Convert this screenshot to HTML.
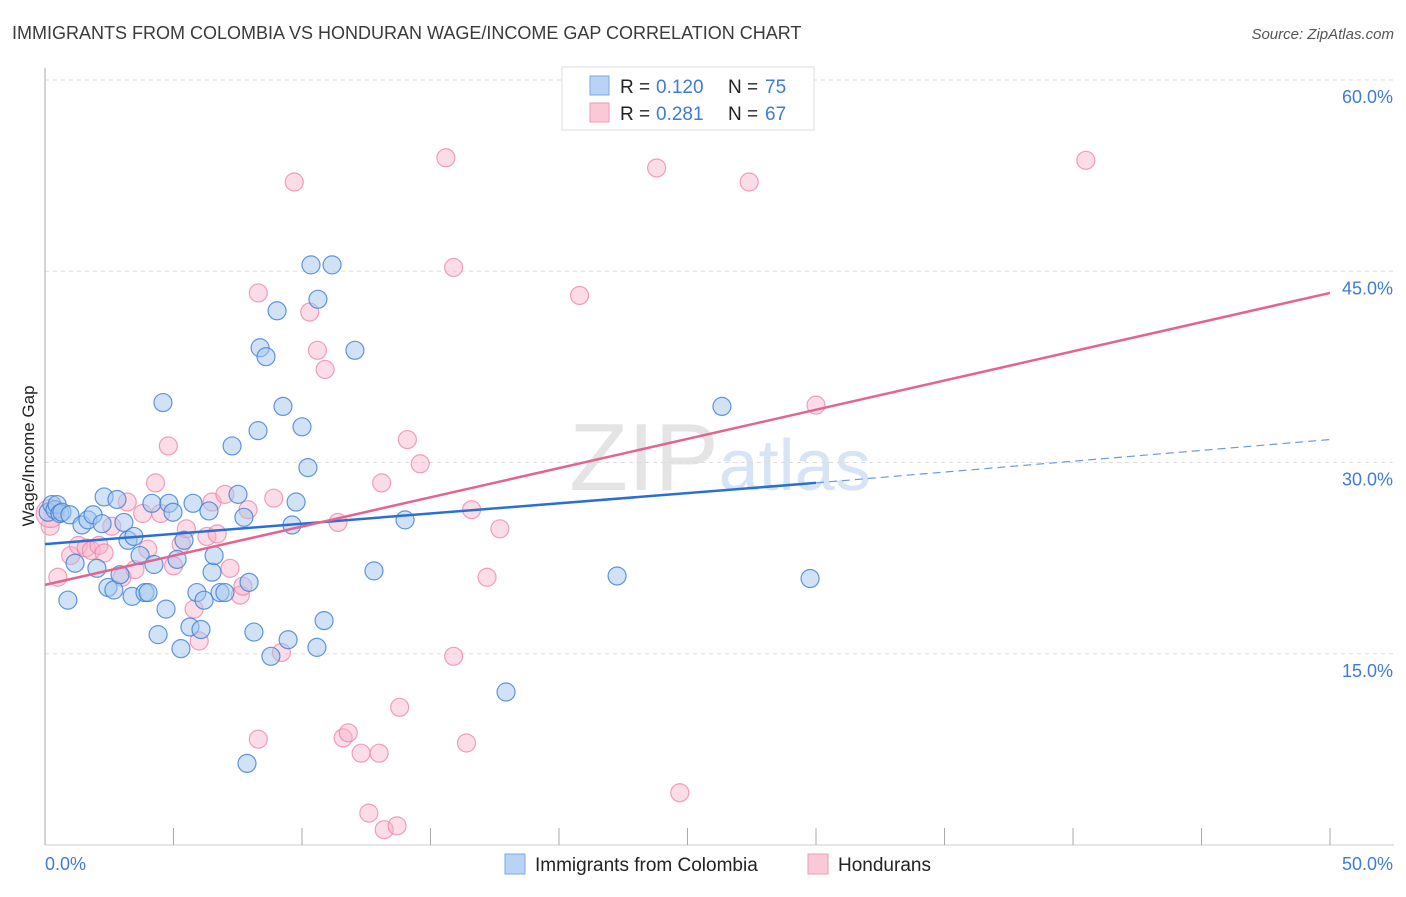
<!DOCTYPE html>
<html><head><meta charset="utf-8">
<style>
body{margin:0;background:#fff;font-family:"Liberation Sans",sans-serif;}
svg text{font-family:"Liberation Sans",sans-serif;}
</style></head>
<body>
<svg id="chart" width="1406" height="892" xmlns="http://www.w3.org/2000/svg">
<text x="12" y="39" font-size="18" fill="#3a3a3a">IMMIGRANTS FROM COLOMBIA VS HONDURAN WAGE/INCOME GAP CORRELATION CHART</text>
<text x="1394" y="39" font-size="15" fill="#555" text-anchor="end" font-style="italic">Source: ZipAtlas.com</text>
<text x="720" y="490" font-size="96" fill="#e4e4e4" text-anchor="middle" font-family="Liberation Serif">ZIP<tspan fill="#d6e4f5" font-family="Liberation Sans" font-size="72">atlas</tspan></text>
<g id="grid"></g>
<g id="axes"></g>
<g id="pts"></g>
<g id="lines"></g>
<text transform="translate(34,456) rotate(-90)" font-size="17" fill="#222" text-anchor="middle">Wage/Income Gap</text>
<g>
<rect x="562" y="67" width="252" height="63" fill="#fff" stroke="#ddd"/>
<rect x="590" y="76" width="19" height="19" fill="#b8d3f5" stroke="#7aaae6"/>
<text x="620" y="93" font-size="19" fill="#222">R =</text>
<text x="656" y="93" font-size="19" fill="#3f7bd8">0.120</text>
<text x="728" y="93" font-size="19" fill="#222">N =</text>
<text x="765" y="93" font-size="19" fill="#3f7bd8">75</text>
<rect x="590" y="103" width="19" height="19" fill="#f9c9d8" stroke="#ee9ab5"/>
<text x="620" y="120" font-size="19" fill="#222">R =</text>
<text x="656" y="120" font-size="19" fill="#3f7bd8">0.281</text>
<text x="728" y="120" font-size="19" fill="#222">N =</text>
<text x="765" y="120" font-size="19" fill="#3f7bd8">67</text>
</g>
<g>
<rect x="505" y="854" width="20" height="20" fill="#b8d3f5" stroke="#7aaae6"/>
<text x="535" y="871" font-size="19" fill="#222">Immigrants from Colombia</text>
<rect x="808" y="854" width="20" height="20" fill="#f9c9d8" stroke="#ee9ab5"/>
<text x="838" y="871" font-size="19" fill="#222">Hondurans</text>
</g>
</svg>
<script>
const yTicks=[15,30,45,60];
const xTickLabels=["0.0%","50.0%"];
const colX=[0.12,0.27,0.39,0.47,0.58,0.66,0.89,0.97,1.17,1.44,1.67,1.87,2.02,2.22,2.30,2.45,2.68,2.80,2.92,3.07,3.23,3.39,3.46,3.70,3.89,4.01,4.16,4.24,4.40,4.59,4.71,4.82,4.98,5.14,5.29,5.41,5.64,5.76,5.91,6.07,6.19,6.38,6.50,6.58,6.81,7.00,7.28,7.51,7.74,7.94,8.13,8.29,8.37,8.60,8.79,9.03,9.26,9.46,9.61,9.77,10.0,10.23,10.35,10.58,10.62,10.86,11.17,12.06,12.80,14.01,17.94,22.26,26.34,29.77,7.86];
const colY=[26.1,26.7,26.3,26.7,26.0,26.1,19.2,25.9,22.1,25.1,25.5,25.9,21.7,25.2,27.3,20.2,20.0,27.1,21.2,25.3,23.9,19.5,24.2,22.7,19.8,19.8,26.8,22.0,16.5,34.7,18.5,26.8,26.1,22.4,15.4,23.9,17.1,26.8,19.8,16.9,19.2,26.2,21.4,22.7,19.8,19.8,31.3,27.5,25.7,20.6,16.7,32.5,39.0,38.3,14.8,41.9,34.4,16.1,25.1,26.9,32.8,29.6,45.5,15.5,42.8,17.6,45.5,38.8,21.5,25.5,12.0,21.1,34.4,20.9,6.4];
const honX=[0.2,0.5,1.0,1.3,1.6,1.8,2.1,2.3,2.6,3.0,3.2,3.5,3.8,4.0,4.3,4.5,4.8,5.0,5.3,5.5,5.8,6.0,6.3,6.5,6.7,7.0,7.2,7.6,7.7,7.9,8.3,8.3,8.9,9.2,9.7,10.3,10.6,10.9,11.4,11.6,11.8,12.3,12.6,13.0,13.1,13.2,13.7,13.8,14.1,14.6,15.6,15.9,15.9,16.4,16.6,17.2,17.7,20.8,23.8,24.7,27.4,30.0,40.5,0.2];
const honY=[25.0,21.0,22.7,23.5,23.3,23.1,23.5,22.9,25.0,21.0,26.9,21.6,26.0,23.2,28.4,26.0,31.3,21.9,23.6,24.8,18.5,16.0,24.2,26.9,24.4,27.5,21.7,19.6,20.3,26.3,43.3,8.3,27.2,15.1,52.0,41.8,38.8,37.3,25.3,8.4,8.8,7.2,2.5,7.2,28.4,1.2,1.5,10.8,31.8,29.9,53.9,45.3,14.8,8.0,26.3,21.0,24.8,43.1,53.1,4.1,52.0,34.5,53.7,26.0];
const colLine=[0,23.6,30,28.4];
const colDash=[30,28.4,50,31.8];
const honLine=[0,20.4,50,43.3];
const X0=45,X1=1330,Y0=845,YT=80;
const sx=v=>X0+(X1-X0)*v/50;
const sy=v=>Y0-(Y0-YT)*v/60;
const NS="http://www.w3.org/2000/svg";
function mk(t,a,p){const e=document.createElementNS(NS,t);for(const k in a)e.setAttribute(k,a[k]);p.appendChild(e);return e;}
const grid=document.getElementById('grid'),axes=document.getElementById('axes');
yTicks.forEach(t=>{
 const l=mk('line',{x1:X0,x2:1394,y1:sy(t),y2:sy(t),stroke:'#ddd','stroke-dasharray':'4,4'},grid);
 
 
 const tx=mk('text',{x:1393,y:sy(t)+23,'font-size':18,fill:'#3f7bd8','text-anchor':'end'},axes);
 tx.textContent=t.toFixed(1)+'%';
 
 
});
const ya=mk('line',{x1:X0,x2:X0,y1:68,y2:Y0,stroke:'#aaa'},axes);


const xa=mk('line',{x1:X0,x2:1394,y1:Y0,y2:Y0,stroke:'#ccc'},axes);


for(let i=0;i<=10;i++){
 const tk=mk('line',{x1:sx(i*5),x2:sx(i*5),y1:828,y2:Y0,stroke:'#aaa'},axes);
 
 
}
[[0,'start',45],[1,'end',1393]].forEach(([i,a,x])=>{
 const tx=mk('text',{x:x,y:870,'font-size':18,fill:'#3f7bd8','text-anchor':a},axes);
 tx.textContent=xTickLabels[i];
 
 
});
const pts=document.getElementById('pts');
honX.forEach((v,i)=>{
 const r=(i===honX.length-1)?14:9;
 const c=mk('circle',{cx:sx(v),cy:sy(honY[i]),r:r,fill:'rgba(247,178,201,0.45)',stroke:'rgba(236,130,165,0.75)','stroke-width':1.2},pts);
 
 
});
colX.forEach((v,i)=>{
 const c=mk('circle',{cx:sx(v),cy:sy(colY[i]),r:9,fill:'rgba(164,198,240,0.5)',stroke:'rgba(60,125,215,0.8)','stroke-width':1.2},pts);
 
 
});
const lines=document.getElementById('lines');
const bl=mk('line',{x1:sx(colLine[0]),y1:sy(colLine[1]),x2:sx(colLine[2]),y2:sy(colLine[3]),stroke:'#2a6fd6','stroke-width':2.5},lines);


const bd=mk('line',{x1:sx(colDash[0]),y1:sy(colDash[1]),x2:sx(colDash[2]),y2:sy(colDash[3]),stroke:'#6a9be0','stroke-width':1.2,'stroke-dasharray':'8,5'},lines);


const pl=mk('line',{x1:sx(honLine[0]),y1:sy(honLine[1]),x2:sx(honLine[2]),y2:sy(honLine[3]),stroke:'#e4648f','stroke-width':2.5},lines);


</script>
</body></html>
